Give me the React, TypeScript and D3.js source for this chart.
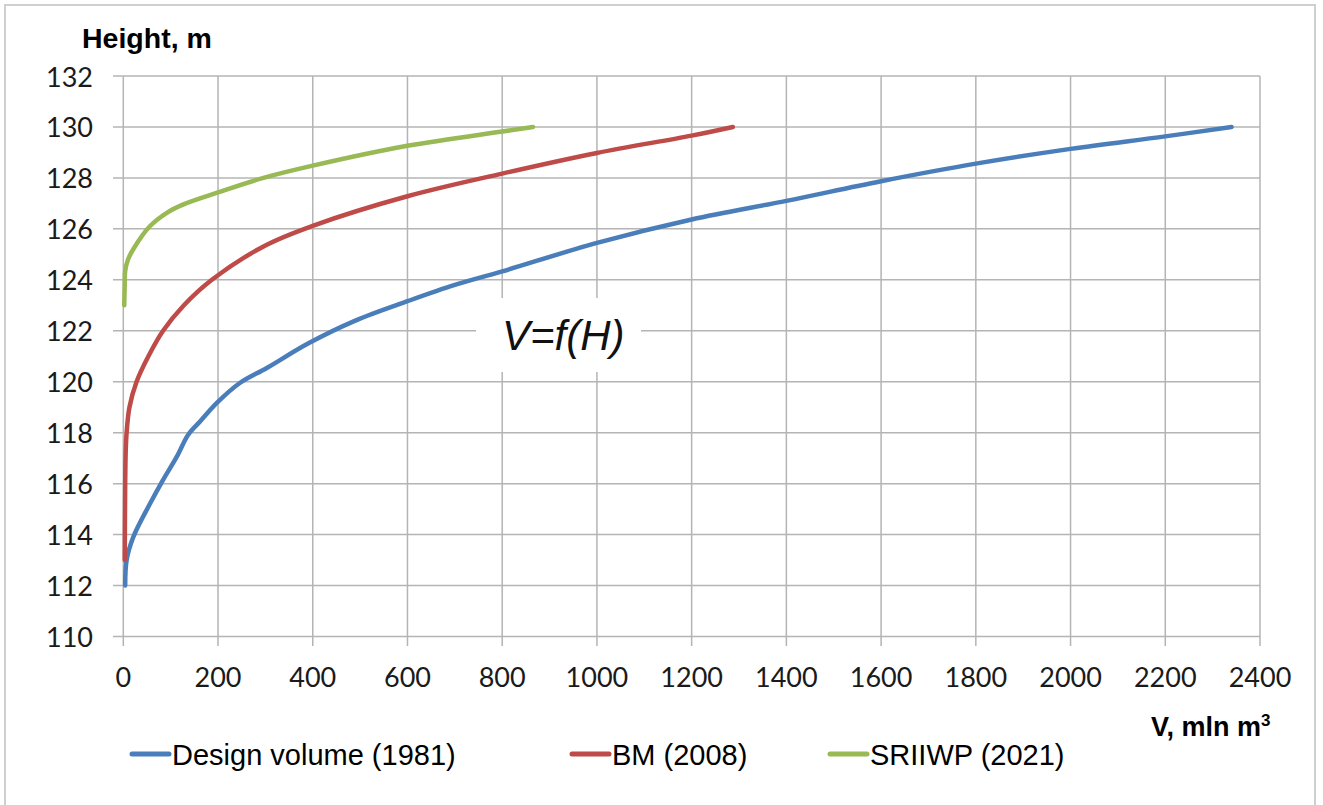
import React from "react";
import * as d3 from "d3";

// Storage curves V = f(H): volume (mln m³) against water level (m)
const designVolume1981V = [4, 7, 21, 56, 84, 113, 137, 162, 197, 246, 303, 390, 490, 600, 700, 800, 1000, 1200, 1400, 1600, 1800, 2000, 2200, 2340];
const designVolume1981H = [112, 113, 113.9, 115.2, 116.15, 117.06, 117.92, 118.44, 119.16, 119.95, 120.54, 121.5, 122.4, 123.16, 123.8, 124.33, 125.45, 126.37, 127.1, 127.87, 128.56, 129.14, 129.63, 130];

const bm2008V = [3, 4, 5, 7, 13, 28, 53, 84, 128, 187, 300, 400, 600, 800, 1000, 1200, 1287];
const bm2008H = [113, 116, 117.2, 118, 119, 120, 121, 122, 123, 124, 125.35, 126.12, 127.28, 128.17, 128.98, 129.66, 130];

const sriiwp2021V = [2, 3, 4, 10, 21, 56, 92, 127, 200, 296, 400, 600, 800, 865];
const sriiwp2021H = [123, 123.8, 124.35, 124.8, 125.2, 126.1, 126.63, 126.96, 127.43, 128, 128.48, 129.26, 129.82, 130];

const xTicks = [0, 200, 400, 600, 800, 1000, 1200, 1400, 1600, 1800, 2000, 2200, 2400];
const yTicks = [110, 112, 114, 116, 118, 120, 122, 124, 126, 128, 130, 132];

const seriesNames = ["Design volume (1981)", "BM (2008)", "SRIIWP (2021)"];
const seriesColors = ["#4a7ebb", "#be4b48", "#98b954"];

const W = 1323;
const H = 805;

export default function App() {
  const x = d3.scaleLinear().domain([0, 2400]).range([123.3, 1260]);
  const y = d3.scaleLinear().domain([110, 132]).range([636.5, 76]);

  const series = [
    d3.zip(designVolume1981V, designVolume1981H),
    d3.zip(bm2008V, bm2008H),
    d3.zip(sriiwp2021V, sriiwp2021H),
  ] as [number, number][][];

  const line = d3
    .line<[number, number]>()
    .x((d) => x(d[0]))
    .y((d) => y(d[1]))
    .curve(d3.curveCatmullRom.alpha(0.5));

  const grid = "#b4b4b4";
  const tickFont = "Lato, 'Open Sans', sans-serif";
  const arial = "'Liberation Sans', Arial, sans-serif";

  const legendX = [132, 572, 830];

  return (
    <svg
      width={W}
      height={H}
      style={{ position: "absolute", left: 0, top: 0, background: "#fff" }}
    >
      <rect x={5} y={5} width={1310} height={810} fill="#fff" stroke="#cfcfcf" strokeWidth={2} />

      {/* horizontal grid with outward ticks */}
      {yTicks.map((t) => (
        <g key={"y" + t}>
          <line x1={113} x2={x(2400)} y1={y(t)} y2={y(t)} stroke={grid} strokeWidth={1.5} />
          <text
            x={93}
            y={y(t) + 10.5}
            textAnchor="end"
            fontFamily={tickFont}
            fontSize={27}
            fill="#1a1a1a"
          >
            {t}
          </text>
        </g>
      ))}

      {/* vertical grid with outward ticks */}
      {xTicks.map((t) => (
        <g key={"x" + t}>
          <line x1={x(t)} x2={x(t)} y1={y(132)} y2={646} stroke={grid} strokeWidth={1.5} />
          <text
            x={x(t)}
            y={687}
            textAnchor="middle"
            fontFamily={tickFont}
            fontSize={27}
            fill="#1a1a1a"
          >
            {t}
          </text>
        </g>
      ))}

      {/* label with white backing over the grid */}
      <rect x={476} y={298} width={165} height={74} fill="#fff" />
      <text
        x={502}
        y={350}
        fontFamily={arial}
        fontStyle="italic"
        fontSize={42}
        fill="#111"
      >
        V=f(H)
      </text>

      {series.map((s, i) => (
        <path
          key={"s" + i}
          d={line(s) ?? ""}
          fill="none"
          stroke={seriesColors[i]}
          strokeWidth={4.5}
          strokeLinecap="round"
          strokeLinejoin="round"
        />
      ))}

      <text x={82} y={48} fontFamily={arial} fontWeight="bold" fontSize={28.5} fill="#000">
        Height, m
      </text>

      <text x={1151} y={736} fontFamily={arial} fontWeight="bold" fontSize={27} fill="#000">
        V, mln m
        <tspan fontSize={17} dy={-10}>
          3
        </tspan>
      </text>

      {seriesNames.map((name, i) => (
        <g key={"l" + i}>
          <line
            x1={legendX[i]}
            x2={legendX[i] + 37}
            y1={754}
            y2={754}
            stroke={seriesColors[i]}
            strokeWidth={5}
            strokeLinecap="round"
          />
          <text x={legendX[i] + 40} y={765} fontFamily={arial} fontSize={29} fill="#000">
            {name}
          </text>
        </g>
      ))}
    </svg>
  );
}
